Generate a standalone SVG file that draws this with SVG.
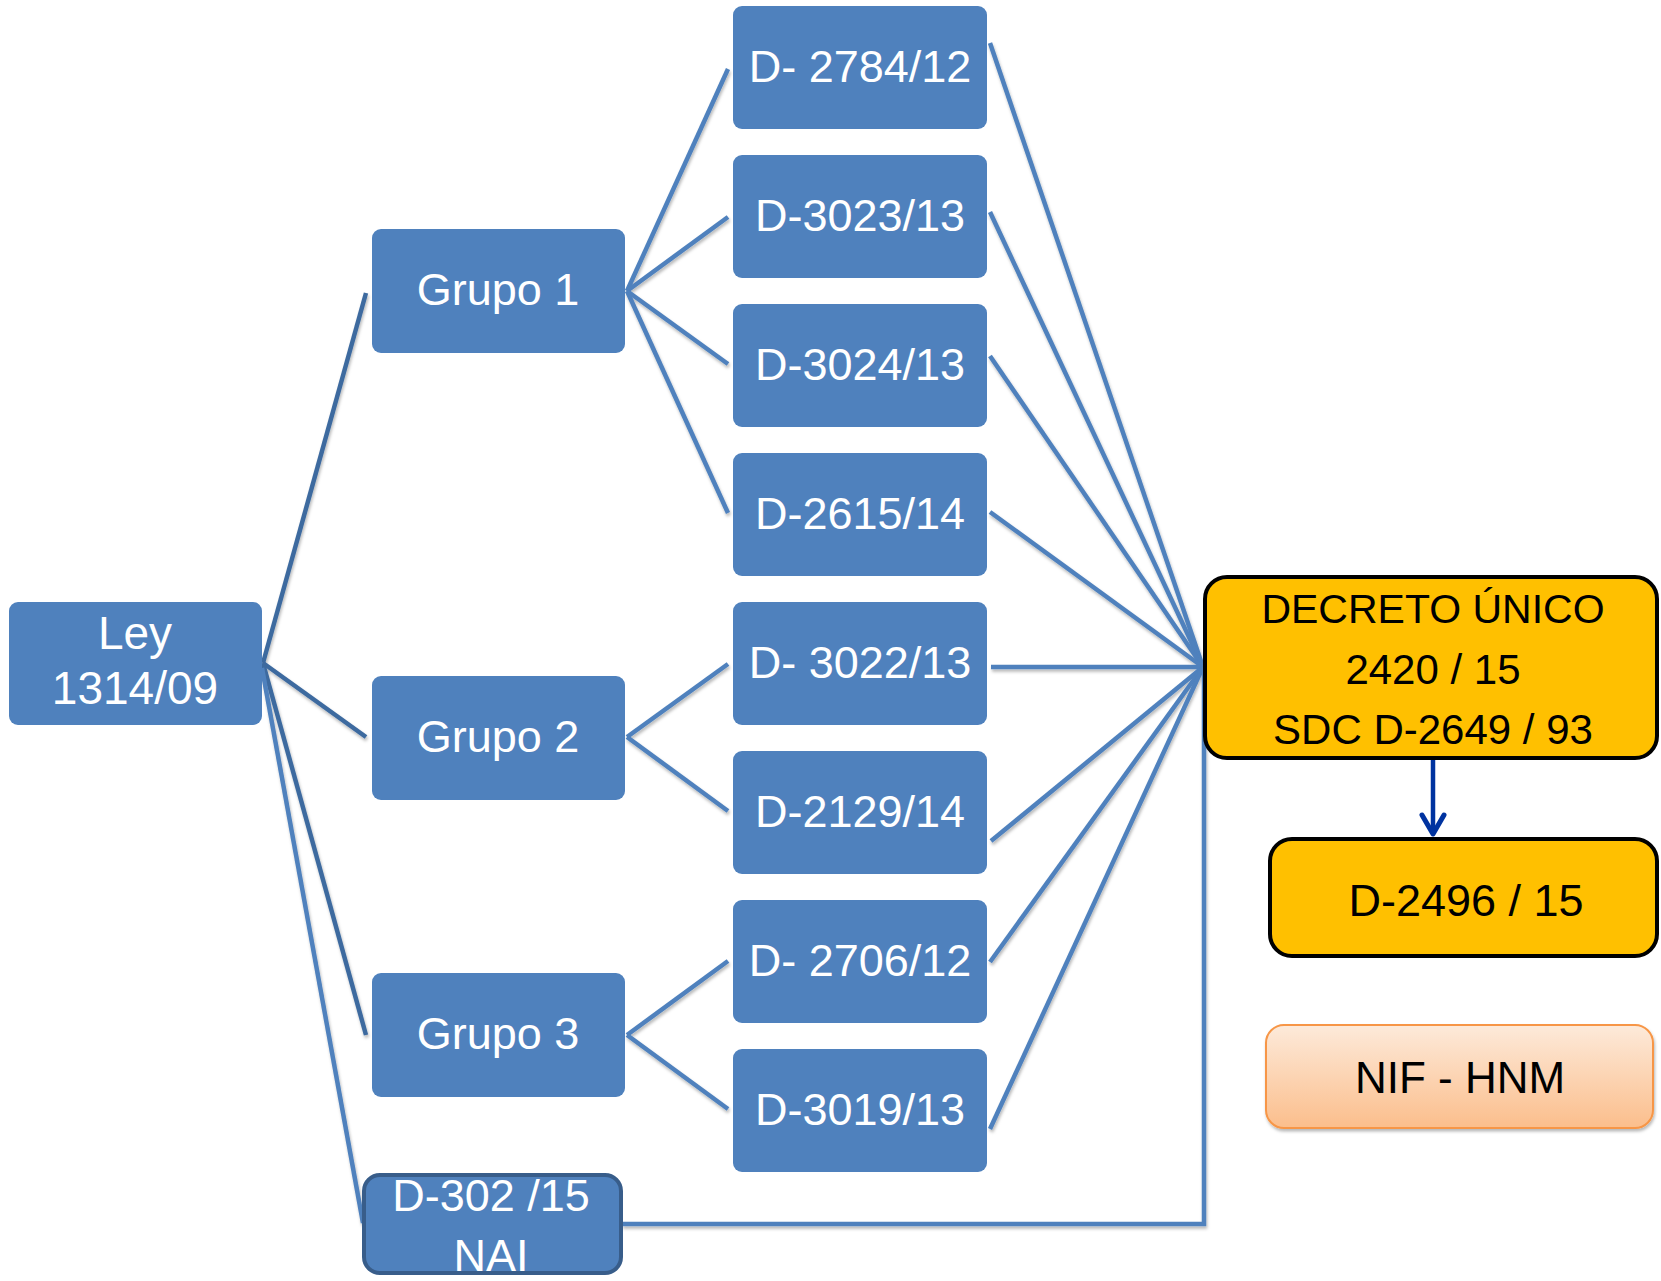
<svg xmlns="http://www.w3.org/2000/svg" width="1661" height="1281" viewBox="0 0 1661 1281">
<defs>
<filter id="sh" x="-10%" y="-10%" width="120%" height="130%">
<feDropShadow dx="1" dy="2.5" stdDeviation="1.5" flood-color="#000" flood-opacity="0.28"/>
</filter>
<linearGradient id="peach" x1="0" y1="0" x2="0" y2="1">
<stop offset="0" stop-color="#FDEADA"/>
<stop offset="1" stop-color="#FBBE8C"/>
</linearGradient>
<style>
.box{fill:#4F81BD;}
.wt{fill:#FFFFFF;font-family:"Liberation Sans",Arial,sans-serif;font-size:45px;text-anchor:middle;}
.bt{fill:#000000;font-family:"Liberation Sans",Arial,sans-serif;text-anchor:middle;}
.c{stroke:#4F81BD;stroke-width:4.5;fill:none;}
.cd{stroke:#3E6A9F;stroke-width:4.5;fill:none;}
</style>
</defs>
<rect width="1661" height="1281" fill="#FFFFFF"/>

<g id="connectors" filter="url(#sh)">
<line class="cd" x1="263" y1="663" x2="366" y2="293"/>
<line class="cd" x1="263" y1="663" x2="366" y2="737"/>
<line class="cd" x1="263" y1="663" x2="366" y2="1035"/>
<line class="c" x1="262" y1="668" x2="363" y2="1223"/>
<line class="c" x1="627" y1="291" x2="728" y2="69"/>
<line class="c" x1="627" y1="291" x2="728" y2="217"/>
<line class="c" x1="627" y1="291" x2="728" y2="364"/>
<line class="c" x1="627" y1="291" x2="728" y2="513"/>
<line class="c" x1="627" y1="737" x2="728" y2="664"/>
<line class="c" x1="627" y1="737" x2="728" y2="811"/>
<line class="c" x1="627" y1="1035" x2="728" y2="961"/>
<line class="c" x1="627" y1="1035" x2="728" y2="1109"/>
<line class="c" x1="990" y1="43" x2="1203" y2="667"/>
<line class="c" x1="990" y1="212" x2="1203" y2="667"/>
<line class="c" x1="990" y1="356" x2="1203" y2="667"/>
<line class="c" x1="990" y1="512" x2="1203" y2="667"/>
<line class="c" x1="991" y1="667" x2="1203" y2="667"/>
<line class="c" x1="991" y1="841" x2="1203" y2="667"/>
<line class="c" x1="990" y1="962" x2="1203" y2="667"/>
<line class="c" x1="990" y1="1129" x2="1203" y2="667"/>
<polyline class="c" points="622,1224 1204,1224 1204,667"/>
</g>

<g id="ley"><rect class="box" x="9" y="602" width="253" height="123" rx="9"/>
<text class="wt" x="135" y="649" style="font-size:46px">Ley</text>
<text class="wt" x="135" y="704" style="font-size:46px">1314/09</text></g>

<g id="grupo1"><rect class="box" x="372" y="229" width="253" height="124" rx="9"/><text class="wt" x="498" y="305">Grupo 1</text></g>
<g id="grupo2"><rect class="box" x="372" y="676" width="253" height="124" rx="9"/><text class="wt" x="498" y="752">Grupo 2</text></g>
<g id="grupo3"><rect class="box" x="372" y="973" width="253" height="124" rx="9"/><text class="wt" x="498" y="1049">Grupo 3</text></g>

<g id="d2784"><rect class="box" x="733" y="6" width="254" height="123" rx="9"/><text class="wt" x="860" y="82">D- 2784/12</text></g>
<g id="d3023"><rect class="box" x="733" y="155" width="254" height="123" rx="9"/><text class="wt" x="860" y="231">D-3023/13</text></g>
<g id="d3024"><rect class="box" x="733" y="304" width="254" height="123" rx="9"/><text class="wt" x="860" y="380">D-3024/13</text></g>
<g id="d2615"><rect class="box" x="733" y="453" width="254" height="123" rx="9"/><text class="wt" x="860" y="529">D-2615/14</text></g>
<g id="d3022"><rect class="box" x="733" y="602" width="254" height="123" rx="9"/><text class="wt" x="860" y="678">D- 3022/13</text></g>
<g id="d2129"><rect class="box" x="733" y="751" width="254" height="123" rx="9"/><text class="wt" x="860" y="827">D-2129/14</text></g>
<g id="d2706"><rect class="box" x="733" y="900" width="254" height="123" rx="9"/><text class="wt" x="860" y="976">D- 2706/12</text></g>
<g id="d3019"><rect class="box" x="733" y="1049" width="254" height="123" rx="9"/><text class="wt" x="860" y="1125">D-3019/13</text></g>

<g id="d302"><rect x="364" y="1175" width="257" height="98" rx="16" fill="#4F81BD" stroke="#385D8A" stroke-width="4"/>
<text class="wt" x="491" y="1211">D-302 /15</text>
<text class="wt" x="491" y="1271">NAI</text></g>

<g id="decreto"><rect x="1205" y="577" width="452" height="181" rx="22" fill="#FFC000" stroke="#000" stroke-width="4"/>
<text class="bt" x="1433" y="623" font-size="41">DECRETO ÚNICO</text>
<text class="bt" x="1433" y="684" font-size="42">2420 / 15</text>
<text class="bt" x="1433" y="744" font-size="42">SDC D-2649 / 93</text></g>

<g id="arrow">
<line x1="1433" y1="760" x2="1433" y2="833" stroke="#0033A0" stroke-width="4.5"/>
<polyline points="1422,815 1433,834 1444,815" fill="none" stroke="#0033A0" stroke-width="5" stroke-linecap="round" stroke-linejoin="round"/>
</g>

<g id="d2496"><rect x="1270" y="839" width="387" height="117" rx="22" fill="#FFC000" stroke="#000" stroke-width="4"/>
<text class="bt" x="1466" y="916" font-size="45">D-2496 / 15</text></g>

<g id="nif"><rect x="1266" y="1025" width="387" height="103" rx="18" fill="url(#peach)" stroke="#F79646" stroke-width="2" filter="url(#sh)"/>
<text class="bt" x="1460" y="1093" font-size="44">NIF - HNM</text></g>
</svg>
